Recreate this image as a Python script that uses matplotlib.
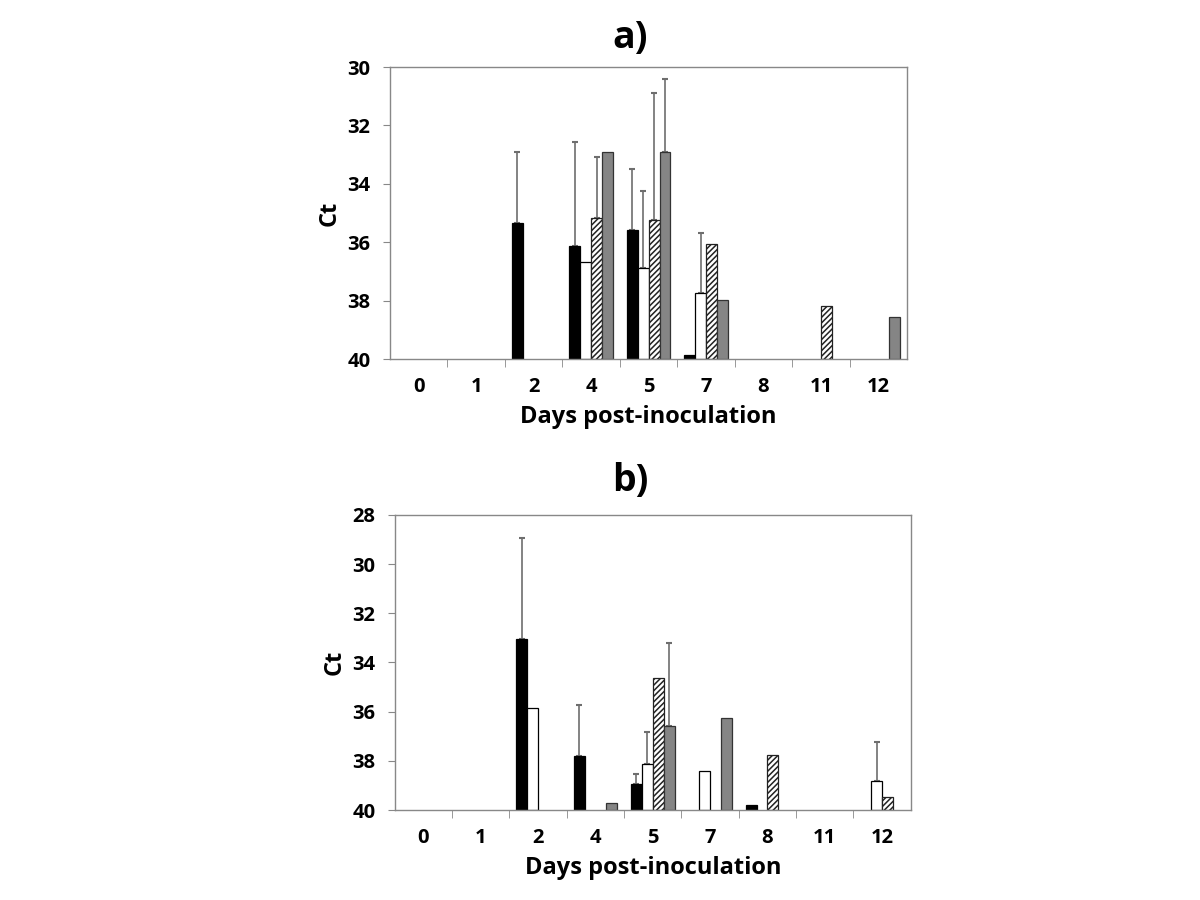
import numpy as np
import matplotlib.pyplot as plt

plt.rcParams['font.family'] = ['Open Sans', 'DejaVu Sans']
plt.rcParams['hatch.linewidth'] = 1.1

days = ['0', '1', '2', '4', '5', '7', '8', '11', '12']

# panel a) Ct values (nan = not detected), error = upward SD
a_black = [np.nan, np.nan, 35.35, 36.13, 35.57, 39.87, np.nan, np.nan, np.nan]
a_white = [np.nan, np.nan, np.nan, 36.68, 36.88, 37.73, np.nan, np.nan, np.nan]
a_hatch = [np.nan, np.nan, np.nan, 35.18, 35.22, 36.05, np.nan, 38.18, np.nan]
a_gray = [np.nan, np.nan, np.nan, 32.9, 32.9, 37.96, np.nan, np.nan, 38.55]
a_black_err = [0, 0, 2.43, 3.57, 2.09, 0, 0, 0, 0]
a_white_err = [0, 0, 0, 0, 2.62, 2.05, 0, 0, 0]
a_hatch_err = [0, 0, 0, 2.1, 4.34, 0, 0, 0, 0]
a_gray_err = [0, 0, 0, 0, 2.5, 0, 0, 0, 0]

# panel b)
b_black = [np.nan, np.nan, 33.03, 37.82, 38.93, np.nan, 39.81, np.nan, np.nan]
b_white = [np.nan, np.nan, 35.84, np.nan, 38.12, 38.4, np.nan, np.nan, 38.81]
b_hatch = [np.nan, np.nan, np.nan, np.nan, 34.63, np.nan, 37.75, np.nan, 39.47]
b_gray = [np.nan, np.nan, np.nan, 39.73, 36.6, 36.24, np.nan, np.nan, np.nan]
b_black_err = [0, 0, 4.11, 2.08, 0.38, 0, 0, 0, 0]
b_white_err = [0, 0, 0, 0, 1.31, 0, 0, 0, 1.58]
b_hatch_err = [0, 0, 0, 0, 0, 0, 0, 0, 0]
b_gray_err = [0, 0, 0, 0, 3.38, 0, 0, 0, 0]

styles = [dict(color='black', edgecolor='black', hatch=None),
          dict(color='white', edgecolor='black', hatch=None),
          dict(color='white', edgecolor='#222222', hatch='//////'),
          dict(color='#858585', edgecolor='#333333', hatch=None)]

fig = plt.figure(figsize=(12, 9), dpi=100)
ax_a = fig.add_axes([0.325, 0.601, 0.431, 0.3245])
ax_b = fig.add_axes([0.329, 0.100, 0.430, 0.3278])

w = 0.19
x = np.arange(len(days))


def draw(ax, series, errs, ymin, yticks):
    for k, (vals, err, st) in enumerate(zip(series, errs, styles)):
        vals = np.array(vals, dtype=float)
        pos = x + (k - 1.5) * w
        ok = ~np.isnan(vals)
        ax.bar(pos[ok], vals[ok] - 40, bottom=40, width=w, color=st['color'],
               edgecolor=st['edgecolor'], hatch=st['hatch'], linewidth=0.9, zorder=2)
        err = np.array(err, dtype=float)
        e = ok & (err > 0)
        if e.any():
            ax.errorbar(pos[e], vals[e], yerr=[err[e], np.zeros(e.sum())], fmt='none',
                        ecolor='#6e6e6e', elinewidth=1.2, capsize=2.5, capthick=1.5, zorder=1)
    ax.set_xlim(-0.5, len(days) - 0.5)
    ax.set_ylim(40, ymin)
    ax.set_yticks(yticks)
    ax.set_xticks(x)
    ax.set_xticklabels(days)
    ax.set_xticks(np.arange(0.5, len(days) - 1, 1), minor=True)
    ax.tick_params(axis='x', which='major', length=0, pad=13, labelsize=14.5)
    ax.tick_params(axis='x', which='minor', length=6, color='#888888', direction='out')
    ax.tick_params(axis='y', length=5, color='#888888', labelsize=14.5, pad=9)
    for lab in ax.get_xticklabels() + ax.get_yticklabels():
        lab.set_fontweight('bold')
    for sp in ax.spines.values():
        sp.set_color('#888888')
        sp.set_linewidth(1.0)
    ax.set_xlabel('Days post-inoculation', fontsize=17, fontweight='bold', labelpad=6)
    ax.set_ylabel('Ct', fontsize=17, fontweight='bold', labelpad=4)


draw(ax_a, [a_black, a_white, a_hatch, a_gray],
     [a_black_err, a_white_err, a_hatch_err, a_gray_err], 30, [30, 32, 34, 36, 38, 40])
draw(ax_b, [b_black, b_white, b_hatch, b_gray],
     [b_black_err, b_white_err, b_hatch_err, b_gray_err], 28, [28, 30, 32, 34, 36, 38, 40])

fig.text(0.525, 0.958, 'a)', fontsize=27, fontweight='bold', ha='center', va='center')
fig.text(0.525, 0.466, 'b)', fontsize=27, fontweight='bold', ha='center', va='center')

fig.savefig('out.png', dpi=100)
